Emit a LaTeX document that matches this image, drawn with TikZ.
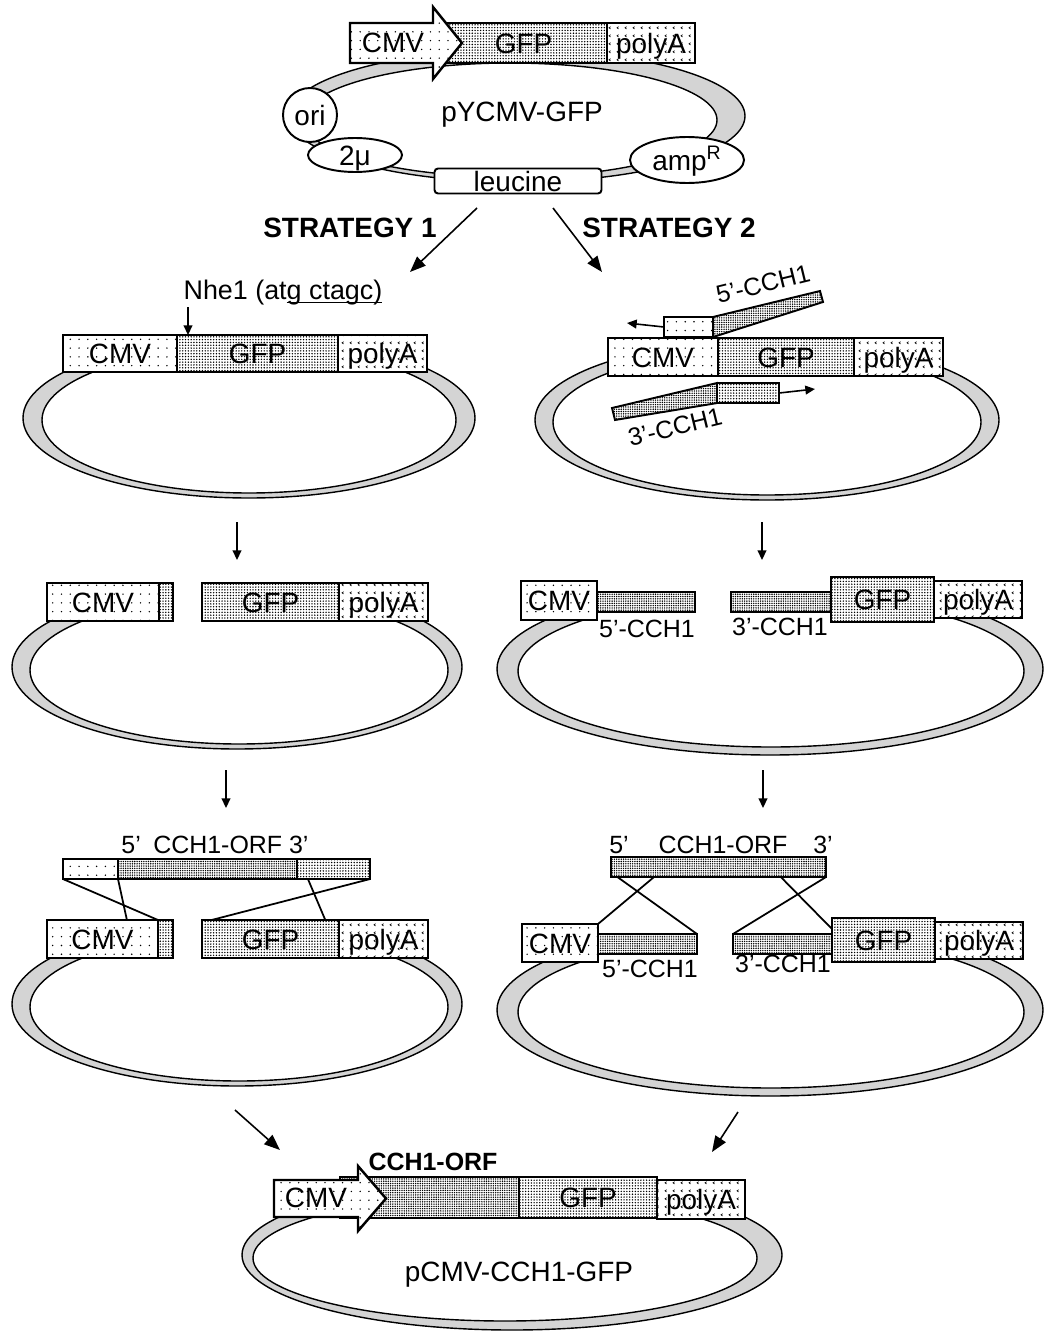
\documentclass[tikz,border=0pt]{standalone}
\usepackage{fontspec}
\setmainfont{Liberation Sans}
\usepackage{tikz}
\usetikzlibrary{arrows.meta, calc, shapes.geometric, patterns.meta}

\newcommand{\lblfont}{\fontsize{15.9}{18}\selectfont}
\newcommand{\smlfont}{\fontsize{14.2}{16}\selectfont}
\definecolor{ringgray}{gray}{0.83}

\pgfdeclarepattern{
    name=chevrons, type=uncolored,
    bottom left={\pgfpoint{0pt}{0pt}}, top right={\pgfpoint{4.6pt}{4.6pt}},
    tile size={\pgfpoint{4.6pt}{4.6pt}},
    code={
        \pgfsetlinewidth{0.4pt}
        \pgfpathmoveto{\pgfpoint{2.9pt}{3.3pt}}
        \pgfpathlineto{\pgfpoint{1.9pt}{2.6pt}}
        \pgfpathlineto{\pgfpoint{2.9pt}{1.9pt}}
        \pgfusepath{stroke}
    }
}

\tikzset{
    box/.style={draw, line width=1.4pt, inner sep=0pt, outer sep=0pt, anchor=north west,
        font=\lblfont, text height=11.4pt, text depth=0pt},
    wh/.style 2 args={minimum width=#1*0.02cm, minimum height=#2*0.02cm},
    sparse/.style={preaction={fill=white}, pattern={Dots[distance=5pt, radius=0.45pt]}},
    fine/.style={preaction={fill=white}, pattern={Dots[distance=1.6pt, radius=0.45pt]}},
    dense/.style={preaction={fill=white}, pattern={Dots[distance=1.3pt, radius=0.45pt]}},
    chev/.style={preaction={fill=white}, pattern=chevrons},
    ring/.style={draw, line width=0.8pt, fill=ringgray, even odd rule},
    tag/.style={draw, line width=1.1pt, fill=white, inner sep=0pt, font=\lblfont,
        text height=11.4pt, text depth=0pt},
    primer/.style={box, line width=1.1pt},
    plabel/.style={font=\smlfont, inner sep=1pt, rotate=13.7},
    flow/.style={-{Triangle[length=9pt, width=7pt]}, line width=0.9pt},
    nick/.style={-{Triangle[length=5.5pt, width=5pt]}, line width=0.9pt},
    cross/.style={line width=1pt}
}

\begin{document}
\begin{tikzpicture}[x=0.02cm, y=-0.02cm]
    \useasboundingbox (0,0) rectangle (1045,1332);

    % parent plasmid
    \draw[ring] (517,116) ellipse (228 and 66) (510,120) ellipse (207 and 57);
    \node (gfp0) [box, fine, wh={167}{40}] at (440,23) {GFP};
    \node (pa0) [box, chev, wh={88}{40}] at (607,23) {polyA};
    \draw[line width=1.4pt, sparse] (350,23) -- (433,23) -- (433,7) -- (462,43) -- (433,79) -- (433,63) -- (350,63) -- cycle;
    \node (cmv0) [font=\lblfont] at (393,43) {CMV};
    \node (ori) [tag, circle, minimum size=54*0.02cm] at (310,115) {ori};
    \node (twomu) [tag, ellipse, wh={94}{34}] at (355,155) {2μ};
    \node (amp) [tag, ellipse, wh={114}{46}] at (687,160) {amp\textsuperscript{R}};
    \node (leu) [tag, rounded corners=2pt, wh={167}{25}] at (518,181) {leucine};
    \node (name0) [font=\lblfont] at (522,115) {pYCMV-GFP};

    \node (st1) [font=\lblfont\bfseries] at (350,228) {STRATEGY 1};
    \node (st2) [font=\lblfont\bfseries] at (669,228) {STRATEGY 2};
    \coordinate (a1s) at (477,208);
    \coordinate (a1e) at (410,272);
    \coordinate (a2s) at (553,208);
    \coordinate (a2e) at (602,272);
    \draw[flow] (a1s) -- (a1e);
    \draw[flow] (a2s) -- (a2e);

    % strategy 1: cut with Nhe1
    \draw[ring] (249,418) ellipse (226 and 80) (249,420) ellipse (207 and 73);
    \node (cmv1) [box, sparse, wh={114}{37}] at (63,335) {CMV};
    \node (gfp1) [box, fine, wh={161}{37}] at (177,335) {GFP};
    \node (pa1) [box, chev, wh={89}{37}] at (338,335) {polyA};
    \node (nhe) [font=\fontsize{15.3}{17}\selectfont] at (283,293) {Nhe1 (at\underline{\smash{g ctagc)}}};
    \coordinate (nhe0) at (188,307);
    \draw[nick] (nhe0) -- (nhe0 |- gfp1.north);

    % strategy 2: primers
    \draw[ring] (767,420) ellipse (232 and 80) (767,422) ellipse (214 and 73);
    \node (cmv2) [box, sparse, wh={110}{38}] at (608,338) {CMV};
    \node (gfp2) [box, fine, wh={136}{38}] at (718,338) {GFP};
    \node (pa2) [box, chev, wh={89}{38}] at (854,338) {polyA};
    \node (p5) [primer, sparse, wh={49}{12}] at (664,317) {};
    \draw[line width=1.1pt, dense] (p5.north east) -- (820,291) -- (823,302) -- (p5.south east) -- cycle;
    \coordinate (p5end) at (627,323);
    \draw[nick] (p5.west) -- (p5end);
    \node (p5lab) [plabel] at (763,284) {5’-CCH1};
    \node (p3) [primer, fine, wh={62}{12}] at (717,383) {};
    \draw[line width=1.1pt, dense] (p3.north west) -- (612,408) -- (615,420) -- (p3.south west) -- cycle;
    \coordinate (p3end) at (815,389);
    \draw[nick] (p3.east) -- (p3end);
    \node (p3lab) [plabel] at (675,427) {3’-CCH1};

    \coordinate (d1s) at (237,522);
    \coordinate (d1e) at (237,560);
    \coordinate (d2s) at (762,522);
    \coordinate (d2e) at (762,560);
    \draw[nick] (d1s) -- (d1e);
    \draw[nick] (d2s) -- (d2e);

    % linearised vectors
    \begin{scope}
        \clip (0,619) rectangle (480,770);
        \draw[ring] (237,667) ellipse (225 and 82) (239,670) ellipse (209 and 74);
    \end{scope}
    \node (cmv3) [box, sparse, wh={112}{38}] at (47,583) {CMV};
    \node (cut3) [box, fine, wh={14}{38}] at (159,583) {};
    \node (gfp3) [box, fine, wh={137}{38}] at (202,583) {GFP};
    \node (pa3) [box, chev, wh={89}{38}] at (339,583) {polyA};

    \begin{scope}
        \clip (490,619) rectangle (1045,770);
        \draw[ring] (770,669) ellipse (273 and 86) (771,671) ellipse (253 and 76);
    \end{scope}
    \node (cmv4) [box, sparse, wh={76}{39}] at (521,581) {CMV};
    \node (h4) [primer, dense, wh={98}{12}] at (597,592) {};
    \node (t4) [primer, dense, wh={100}{12}] at (731,592) {};
    \node (gfp4) [box, fine, wh={103}{45}] at (831,577) {GFP};
    \node (pa4) [box, chev, wh={88}{37}] at (934,581) {polyA};
    \node (h4lab) [font=\smlfont] at (647,629) {5’-CCH1};
    \node (t4lab) [font=\smlfont] at (780,627) {3’-CCH1};

    \coordinate (d3s) at (226,770);
    \coordinate (d3e) at (226,808);
    \coordinate (d4s) at (763,770);
    \coordinate (d4e) at (763,808);
    \draw[nick] (d3s) -- (d3e);
    \draw[nick] (d4s) -- (d4e);

    % recombination, strategy 1
    \node (orf5) [font=\smlfont] at (215,845) {5’\hspace{0.5em}CCH1-ORF 3’};
    \node (arm5) [primer, sparse, wh={55}{14}] at (63,859) {};
    \node (bar5) [primer, dense, wh={179}{14}] at (118,859) {};
    \node (arm3) [primer, fine, wh={73}{14}] at (297,859) {};
    \begin{scope}
        \clip (0,956) rectangle (480,1100);
        \draw[ring] (237,1004) ellipse (225 and 82) (239,1007) ellipse (209 and 74);
    \end{scope}
    \node (cmv5) [box, sparse, wh={111}{38}] at (47,920) {CMV};
    \node (cut5) [box, fine, wh={15}{38}] at (158,920) {};
    \node (gfp5) [box, fine, wh={137}{38}] at (202,920) {GFP};
    \node (pa5) [box, chev, wh={89}{38}] at (339,920) {polyA};
    \draw[cross] (arm5.south west) -- (cmv5.north east);
    \draw[cross] (arm5.south east) -- ($(cmv5.north west)!0.72!(cmv5.north east)$);
    \draw[cross] ($(arm3.south west)!0.15!(arm3.south east)$) -- ($(gfp5.north west)!0.9!(gfp5.north east)$);
    \draw[cross] (arm3.south east) -- ($(gfp5.north west)!0.07!(gfp5.north east)$);

    % recombination, strategy 2
    \node (o5) [font=\smlfont] at (619,845) {5’};
    \node (orf6) [font=\smlfont] at (723,845) {CCH1-ORF};
    \node (o3) [font=\smlfont] at (823,845) {3’};
    \node (bar6) [primer, dense, wh={215}{18}] at (611,857) {};
    \begin{scope}
        \clip (490,960) rectangle (1045,1110);
        \draw[ring] (770,1010) ellipse (273 and 86) (771,1012) ellipse (253 and 76);
    \end{scope}
    \node (cmv6) [box, sparse, wh={76}{38}] at (522,924) {CMV};
    \node (h6) [primer, dense, wh={99}{13}] at (598,934) {};
    \node (t6) [primer, dense, wh={99}{13}] at (733,934) {};
    \node (gfp6) [box, fine, wh={103}{44}] at (832,918) {GFP};
    \node (pa6) [box, chev, wh={88}{37}] at (935,922) {polyA};
    \node (h6lab) [font=\smlfont] at (650,969) {5’-CCH1};
    \node (t6lab) [font=\smlfont] at (783,964) {3’-CCH1};
    \draw[cross] ($(bar6.south west)!0.03!(bar6.south east)$) -- (h6.north east);
    \draw[cross] ($(bar6.south west)!0.2!(bar6.south east)$) -- (cmv6.north east);
    \draw[cross] ($(bar6.south west)!0.79!(bar6.south east)$) -- ($(gfp6.north west)!0.25!(gfp6.south west)$);
    \draw[cross] (bar6.south east) -- (t6.north west);

    \coordinate (f1s) at (235,1110);
    \coordinate (f1e) at (280,1150);
    \coordinate (f2s) at (738,1112);
    \coordinate (f2e) at (712,1152);
    \draw[flow] (f1s) -- (f1e);
    \draw[flow] (f2s) -- (f2e);

    % final construct
    \draw[ring] (512,1255) ellipse (270 and 75) (505,1258) ellipse (252 and 63);
    \node (orf7) [box, dense, wh={179}{41}] at (340,1177) {};
    \node (gfp7) [box, fine, wh={138}{41}] at (519,1177) {GFP};
    \node (pa7) [box, chev, wh={88}{39}] at (657,1180) {polyA};
    \draw[line width=1.4pt, sparse] (274,1180) -- (358,1180) -- (358,1166) -- (386,1198.5) -- (358,1231) -- (358,1217) -- (274,1217) -- cycle;
    \node (cmv7) [font=\lblfont] at (316,1198) {CMV};
    \node (orf7lab) [font=\smlfont\bfseries, inner sep=1pt] at (433,1162) {CCH1-ORF};
    \node (name7) [font=\lblfont] at (519,1275) {pCMV-CCH1-GFP};
\end{tikzpicture}
\end{document}
